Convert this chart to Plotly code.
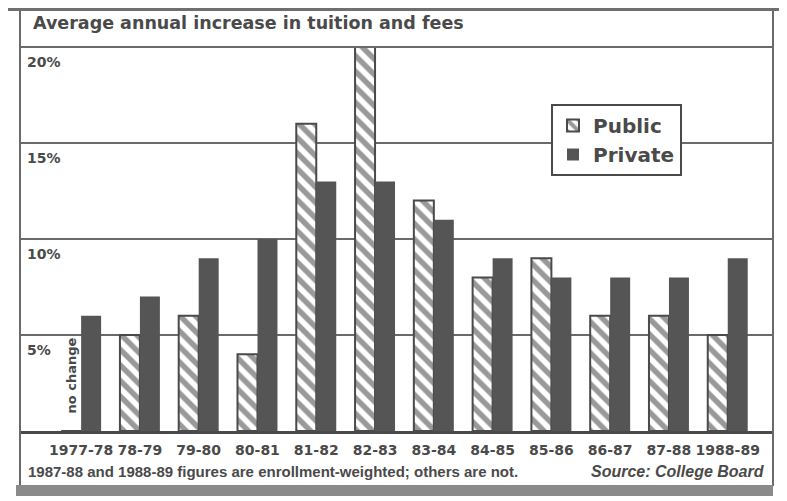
import plotly.graph_objects as go

categories = ["1977-78", "78-79", "79-80", "80-81", "81-82", "82-83",
              "83-84", "84-85", "85-86", "86-87", "87-88", "1988-89"]
public = [0, 5, 6, 4, 16, 20, 12, 8, 9, 6, 6, 5]
private = [6, 7, 9, 10, 13, 13, 11, 9, 8, 8, 8, 9]
y_ticks = [5, 10, 15, 20]
y_tick_labels = ["5%", "10%", "15%", "20%"]

INK = "#4a4a4a"
LINE = "#6a6a6a"
FONT = "DejaVu Sans"

fig = go.Figure()
fig.add_trace(go.Bar(
    name="Public", x=categories, y=public,
    marker=dict(color="white",
                pattern=dict(shape="\\", fgcolor="#333333", bgcolor="white",
                             size=11, solidity=0.5),
                line=dict(color=INK, width=2)),
))
fig.add_trace(go.Bar(
    name="Private", x=categories, y=private,
    marker=dict(color="#555555", line=dict(color="#555555", width=0)),
))

# page coords (browser body has 8px margin): plot area x 20..773, y 47..431
def py(p):
    return (431 - p) / 384.0

def px(p):
    return (p - 20) / 753.0

shapes = []
# frame
shapes.append(dict(type="line", xref="paper", yref="paper", x0=0, x1=0,
                   y0=py(486), y1=py(10), line=dict(color=LINE, width=2)))
shapes.append(dict(type="line", xref="paper", yref="paper", x0=1, x1=1,
                   y0=py(486), y1=py(10), line=dict(color=LINE, width=2)))
shapes.append(dict(type="line", xref="paper", yref="paper", x0=px(8), x1=px(787),
                   y0=py(9.5), y1=py(9.5), line=dict(color="#6f6f6f", width=3)))
shapes.append(dict(type="line", xref="paper", yref="paper", x0=0, x1=1,
                   y0=1, y1=1, line=dict(color=LINE, width=2)))
# bottom gray band
shapes.append(dict(type="rect", xref="paper", yref="paper", x0=px(16), x1=px(773),
                   y0=py(496), y1=py(485), fillcolor="#8a8a8a", line=dict(width=0)))

annotations = []
annotations.append(dict(text="Average annual increase in tuition and fees",
                        xref="paper", yref="paper", x=px(31), y=py(23),
                        xanchor="left", yanchor="middle", showarrow=False,
                        font=dict(family=FONT, size=17.5, color=INK, weight="bold")))
for v, t in zip(y_ticks, y_tick_labels):
    annotations.append(dict(text=t, xref="paper", yref="y", x=px(25), y=v,
                            xanchor="left", yanchor="top", yshift=-5,
                            showarrow=False,
                            font=dict(family=FONT, size=14, color=INK, weight="bold")))
annotations.append(dict(text="no change", xref="x", yref="y", x=categories[0], y=2.9,
                        xshift=-10, textangle=-90, showarrow=False,
                        font=dict(family=FONT, size=13, color=INK, weight="bold")))
annotations.append(dict(text="1987-88 and 1988-89 figures are enrollment-weighted; others are not.",
                        xref="paper", yref="paper", x=px(26), y=py(471),
                        xanchor="left", yanchor="middle", showarrow=False,
                        font=dict(family="Liberation Sans", size=15, color=INK, weight="bold")))
annotations.append(dict(text="<i>Source: College Board</i>",
                        xref="paper", yref="paper", x=px(767), y=py(471),
                        xanchor="right", yanchor="middle", showarrow=False,
                        font=dict(family="Liberation Sans", size=16, color=INK, weight="bold")))

fig.update_layout(
    width=779, height=493,
    margin=dict(l=12, r=14, t=39, b=70),
    paper_bgcolor="white", plot_bgcolor="white",
    barmode="group", bargap=0.32, bargroupgap=0,
    showlegend=True,
    legend=dict(x=px(551), y=py(104), xanchor="left", yanchor="top",
                bgcolor="white", bordercolor=INK, borderwidth=2,
                font=dict(family=FONT, size=20, color=INK, weight="bold"),
                tracegroupgap=0),
    xaxis=dict(type="category", range=[-1.04, 11.77], showline=True,
               linecolor=INK, linewidth=3, ticks="", tickangle=0,
               ticklabelstandoff=4, showgrid=False,
               tickfont=dict(family=FONT, size=14, color=INK, weight="bold")),
    yaxis=dict(range=[0, 20], tickvals=y_ticks, showticklabels=False,
               showgrid=True, gridcolor=LINE, gridwidth=2, zeroline=False,
               showline=False),
    shapes=shapes,
    annotations=annotations,
)

fig.write_html("out.html")
